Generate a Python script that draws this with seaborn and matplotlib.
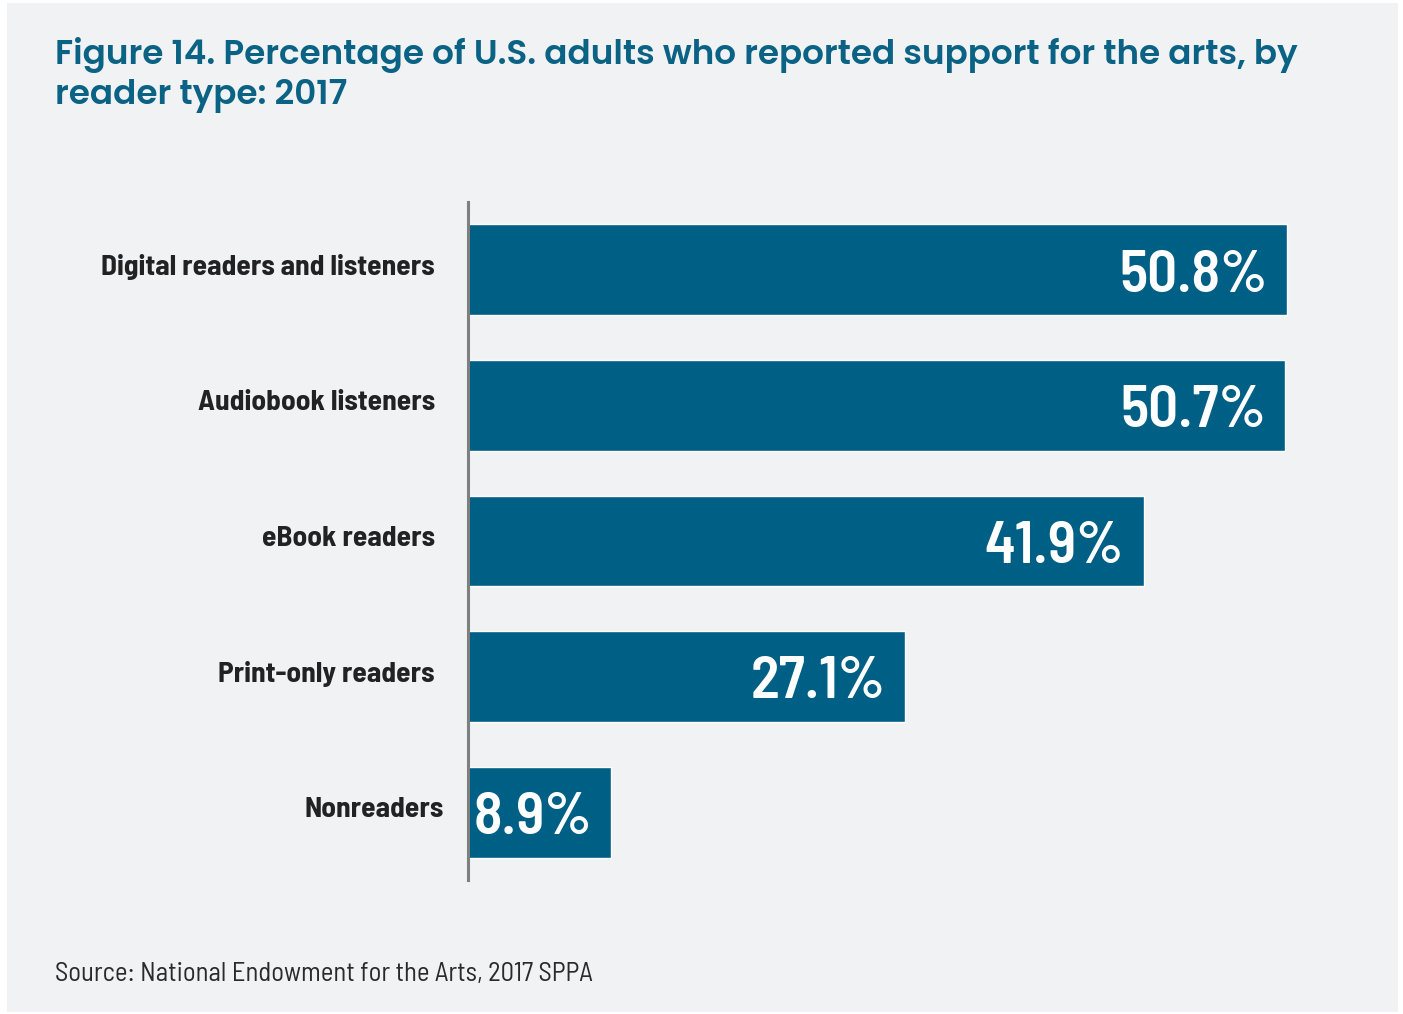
import matplotlib
matplotlib.use("Agg")
import matplotlib.pyplot as plt
from matplotlib.patches import Rectangle
from matplotlib import font_manager as fm
import seaborn as sns
import pandas as pd

categories = [
    "Digital readers and listeners",
    "Audiobook listeners",
    "eBook readers",
    "Print-only readers",
    "Nonreaders",
]
values = [50.8, 50.7, 41.9, 27.1, 8.9]

title = "Figure 14. Percentage of U.S. adults who reported support for the arts, by\nreader type: 2017"
source = "Source: National Endowment for the Arts, 2017 SPPA"

BAR = "#005f85"
TITLE = "#0a6284"
PANEL = "#f1f2f4"
COND = ["Barlow Semi Condensed", "DejaVu Sans"]


def title_font(size, weight=600):
    """Geometric sans for the heading, taken from a static font file."""
    for family in ("Montserrat", "Poppins"):
        cands = [f for f in fm.fontManager.ttflist
                 if f.name == family and f.style == "normal"
                 and isinstance(f.weight, int)]
        if cands:
            best = min(cands, key=lambda f: abs(f.weight - weight))
            if abs(best.weight - weight) <= 100:
                return fm.FontProperties(fname=best.fname, size=size)
    return fm.FontProperties(family=["Open Sans", "DejaVu Sans"],
                             weight="semibold", size=size)


df = pd.DataFrame({"reader": categories, "pct": values})

sns.set_theme(style="white")
plt.rcParams["font.family"] = COND

W, H = 1403, 1014
fig = plt.figure(figsize=(W / 100, H / 100), dpi=100, facecolor="white")
fig.patches.append(Rectangle((7 / W, 1 - 1012 / H), 1391 / W, 1009 / H,
                             transform=fig.transFigure, facecolor=PANEL,
                             edgecolor="none", zorder=-10))

px_per_unit = (1288 - 469) / 50.8
xmax = 57
ax = fig.add_axes([468 / W, 1 - 880 / H, xmax * px_per_unit / W, (880 - 202) / H])
ax.set_facecolor("none")

sns.barplot(data=df, x="pct", y="reader", orient="h", color=BAR,
            saturation=1, width=0.67, ax=ax)

ax.set_xlim(0, xmax)
ax.set_ylim(4.5, -0.5)
ax.set_xlabel("")
ax.set_ylabel("")
ax.set_xticks([])
ax.set_yticks([])
for s in ["top", "right", "bottom"]:
    ax.spines[s].set_visible(False)
ax.spines["left"].set_color("#7f7f7f")
ax.spines["left"].set_linewidth(2.2)

# category names to the left of the axis line
ytrans = ax.get_yaxis_transform()
label_gap = [33, 33, 33, 33, 24]
for i, name in enumerate(categories):
    ax.annotate(name, xy=(0, i), xycoords=ytrans,
                xytext=(-label_gap[i] * 0.72, 3 * 0.72), textcoords="offset points",
                ha="right", va="center", fontsize=21.2, fontweight="bold",
                color="#222222", annotation_clip=False)

# value labels inside the bar ends
for i, v in enumerate(values):
    ax.annotate(f"{v}%", xy=(v, i), xytext=(-14, -4.5), textcoords="offset points",
                ha="right", va="center", color="white", fontsize=42.5,
                fontweight="semibold")

fig.text(55 / W, 1 - 75 / H, title, ha="left", va="center",
         fontproperties=title_font(24.6), color=TITLE, linespacing=1.22)

fig.text(55 / W, 1 - 974 / H, source, ha="left", va="center",
         fontsize=19.2, color="#2a2a2a")

fig.savefig("out.png", dpi=100, facecolor="white")
